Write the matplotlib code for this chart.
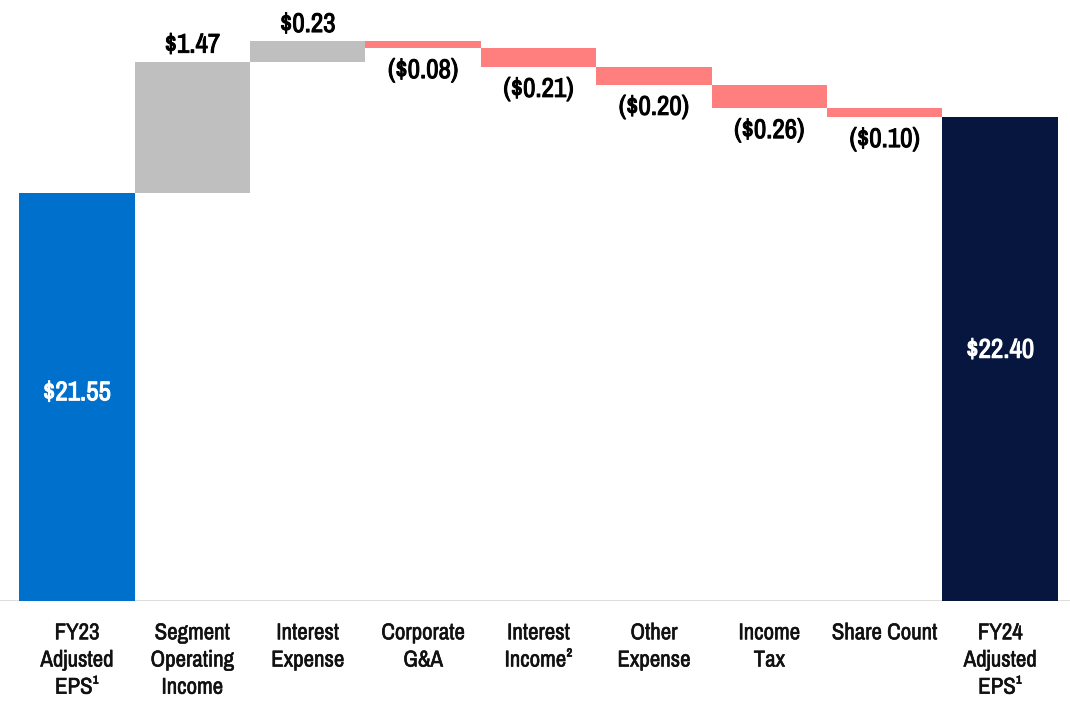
#!/usr/bin/env python3
# -*- coding: utf-8 -*-

import matplotlib
matplotlib.use("Agg")
import matplotlib.pyplot as plt
import matplotlib.patheffects as pe
from matplotlib import font_manager

# pick a narrow sans if present
fl = font_manager.fontManager.ttflist
narrow = sorted(set(f.name for f in fl if 'Narrow' in f.name or 'Condensed' in f.name))
have_narrow = len(narrow) > 0
if have_narrow:
    plt.rcParams['font.family'] = [narrow[0], 'DejaVu Sans']
else:
    plt.rcParams['font.family'] = ['Liberation Sans', 'DejaVu Sans']

categories = ["FY23\nAdjusted\nEPS\u00b9", "Segment\nOperating\nIncome", "Interest\nExpense",
              "Corporate\nG&A", "Interest\nIncome\u00b2", "Other\nExpense", "Income\nTax",
              "Share Count", "FY24\nAdjusted\nEPS\u00b9"]
start_eps = 21.55
changes = [1.47, 0.23, -0.08, -0.21, -0.20, -0.26, -0.10]
end_eps = 22.40
value_labels = ["$21.55", "$1.47", "$0.23", "($0.08)", "($0.21)", "($0.20)", "($0.26)", "($0.10)", "$22.40"]

axis_floor = 17.0

c_start = "#0070CD"
c_end = "#06163F"
c_up = "#BFBFBF"
c_down = "#FF7F7F"

lab_fs = 16.5 if have_narrow else 15
val_fs = 19.5 if have_narrow else 17

# thicken strokes a little (narrow face has no bold)
val_fx = [pe.withStroke(linewidth=0.7, foreground='black')]
val_fx_w = [pe.withStroke(linewidth=0.7, foreground='white')]
lab_fx = [pe.withStroke(linewidth=0.4, foreground='#111111')]

fig = plt.figure(figsize=(10.7, 7.08), dpi=100)
ax = fig.add_axes([0, 0.151, 1, 0.849])

# first bar
ax.bar(0, start_eps - axis_floor, bottom=axis_floor, width=1.0, color=c_start)
ax.text(0, (start_eps + axis_floor) / 2 + 0.05, value_labels[0], ha='center', va='center',
        color='white', fontsize=val_fs, fontweight='bold', path_effects=val_fx_w)

level = start_eps
for i, ch in enumerate(changes, start=1):
    lo = min(level, level + ch)
    col = c_up if ch > 0 else c_down
    ax.bar(i, abs(ch), bottom=lo, width=1.0, color=col)
    if ch > 0:
        ax.annotate(value_labels[i], (i, level + ch), xytext=(0, 3), textcoords='offset points',
                    ha='center', va='bottom', fontsize=val_fs, fontweight='bold', path_effects=val_fx)
    else:
        ax.annotate(value_labels[i], (i, level + ch), xytext=(0, -7), textcoords='offset points',
                    ha='center', va='top', fontsize=val_fs, fontweight='bold', path_effects=val_fx)
    level += ch

n = len(categories) - 1
ax.bar(n, end_eps - axis_floor, bottom=axis_floor, width=1.0, color=c_end)
ax.text(n, (end_eps + axis_floor) / 2 + 0.1, value_labels[-1], ha='center', va='center',
        color='white', fontsize=val_fs, fontweight='bold', path_effects=val_fx_w)

ax.axhline(axis_floor, color='#D9D9D9', lw=2, zorder=0.5)

ax.set_xlim(-0.667, 8.605)
ax.set_ylim(axis_floor, 23.71)
ax.set_xticks(range(len(categories)))
ax.set_xticklabels(categories, fontsize=lab_fs, linespacing=1.45, color='#111111')
for t in ax.get_xticklabels():
    t.set_path_effects(lab_fx)
ax.tick_params(axis='x', length=0, pad=16)
ax.set_yticks([])
for s in ax.spines.values():
    s.set_visible(False)

plt.savefig("out.png", dpi=100)
